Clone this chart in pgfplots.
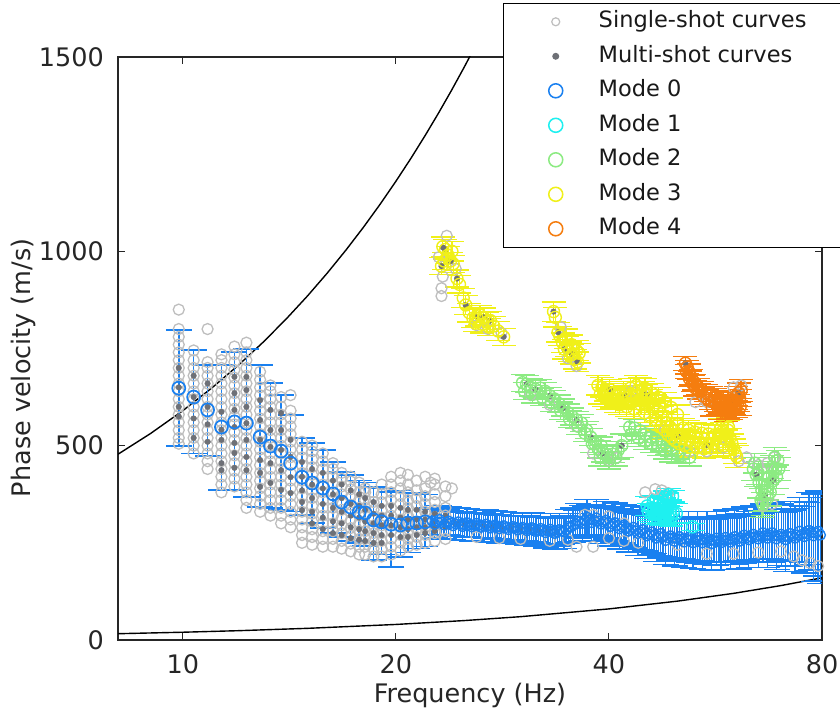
\documentclass[border=0pt]{standalone}
\usepackage{pgfplots}
\pgfplotsset{compat=1.18}
\usepackage{pgfplotstable}
\usepackage{fontspec}
\setmainfont{DejaVu Sans}

\definecolor{mzero}{RGB}{25,128,240}
\definecolor{mone}{RGB}{30,240,240}
\definecolor{mtwo}{RGB}{140,235,130}
\definecolor{mthree}{RGB}{240,240,25}
\definecolor{mfour}{RGB}{245,125,15}
\definecolor{single}{RGB}{190,190,190}
\definecolor{multi}{RGB}{110,112,118}
\definecolor{axisgray}{RGB}{38,38,38}

% Mode 0, low frequencies: f, v, error plus, error minus
\pgfplotstableread{
f v ep em
9.87 648 150 149
10.36 625 121 145
10.84 592 115 119
11.34 548 160 162
11.83 561 180 175
12.30 558 191 190
12.86 522 185 180
13.30 499 162 160
13.77 486 144 151
14.20 455 124 125
14.74 419 101 97
15.23 404 103 103
15.77 391 98 103
16.30 376 82 101
16.77 355 77 90
17.27 342 82 87
17.75 329 82 79
18.10 327 78 85
18.60 309 85 103
19.10 304 86 84
19.70 298 83 110
20.30 296 89 83
20.80 301 79 76
21.40 301 77 66
22.00 304 71 64
}\modezerolow

% Mode 0, dense part
\pgfplotstableread{
f v ep em
22.5 306 34 34
22.7 298 38 36
22.9 304 33 33
23.05 310 36 38
23.2 303 33 33
23.4 296 37 36
23.6 302 32 32
23.75 306 36 37
23.9 300 32 32
24.1 294 37 36
24.3 299 32 32
24.5 304 36 37
24.7 298 31 31
24.85 292 37 36
25.0 297 31 31
25.2 302 36 37
25.4 296 31 31
25.6 291 37 36
25.8 295 31 31
26.0 300 36 37
26.2 295 31 31
26.4 290 37 36
26.6 294 31 31
26.8 298 36 37
27.0 293 31 31
27.2 288 37 36
27.4 292 31 31
27.6 296 36 37
27.8 291 31 31
28.0 286 37 36
28.2 290 31 31
28.4 294 36 37
28.6 289 31 31
28.85 284 37 36
29.1 289 31 31
29.3 292 36 37
29.5 288 31 31
29.75 283 37 36
30.0 287 31 31
30.2 290 37 38
30.4 286 31 31
30.65 281 38 37
30.9 285 32 32
31.1 289 38 39
31.3 284 32 32
31.55 279 39 38
31.8 283 32 32
32.05 287 39 40
32.3 282 33 33
32.55 276 40 39
32.8 281 33 33
33.05 285 40 41
33.3 280 33 33
33.55 274 41 40
33.8 279 34 34
34.05 284 41 42
34.3 280 34 34
34.55 278 43 42
34.8 283 35 35
35.05 292 44 42
35.3 290 36 36
35.6 296 44 44
35.9 298 36 36
36.15 306 45 44
36.4 304 37 37
36.7 300 46 45
37.0 308 37 37
37.25 316 46 46
37.5 309 38 38
37.8 302 47 47
38.1 308 38 38
38.4 314 48 47
38.7 306 38 38
39.0 298 48 49
39.3 304 39 39
39.6 308 49 48
39.9 301 39 39
40.2 292 50 50
40.5 298 40 40
40.8 302 51 50
41.1 295 40 40
41.4 286 52 52
41.7 291 41 41
42.0 296 53 52
42.3 287 42 42
42.65 280 54 54
43.0 284 43 43
43.3 290 55 54
43.6 281 44 44
43.95 274 56 56
44.3 278 45 45
44.65 284 58 56
45.0 275 46 46
45.3 268 58 58
45.6 272 47 47
45.95 278 60 58
46.3 270 48 48
46.65 262 60 60
47.0 267 49 49
47.35 274 61 60
47.7 265 50 50
48.1 256 62 62
48.5 263 50 50
48.85 268 63 62
49.2 262 51 51
49.55 254 64 64
49.9 261 52 52
50.3 266 64 64
50.7 260 52 52
51.1 252 65 65
51.5 259 53 53
51.85 264 66 65
52.2 258 53 53
52.6 250 66 66
53.0 258 54 54
53.4 264 67 66
53.8 257 54 54
54.2 250 68 68
54.6 257 55 55
55.05 262 68 68
55.5 256 55 55
55.9 248 68 68
56.3 256 55 55
56.75 262 69 69
57.2 256 56 56
57.6 250 69 69
58.0 257 56 56
58.45 264 70 70
58.9 258 56 56
59.35 252 70 70
59.8 259 57 57
60.25 266 71 71
60.7 260 57 57
61.15 254 71 71
61.6 262 57 57
62.1 270 72 72
62.6 263 58 58
63.05 258 72 72
63.5 265 58 58
64.0 272 73 73
64.5 266 59 59
65.0 260 73 74
65.5 267 59 59
66.0 276 74 75
66.5 268 60 60
67.0 262 75 76
67.5 269 60 60
68.0 276 76 77
68.5 268 61 61
69.0 260 77 78
69.5 267 62 62
70.05 272 78 80
70.6 266 63 63
71.1 258 80 82
71.6 266 64 64
72.15 274 82 84
72.7 268 66 66
73.25 262 84 86
73.8 270 68 68
74.4 280 86 88
75.0 272 72 72
75.55 266 90 94
76.1 274 80 80
76.7 282 98 103
77.3 276 90 95
77.85 268 108 118
78.4 275 100 110
79.0 280 103 128
79.6 270 105 125
}\modezerohigh

\pgfplotstableread{
f v e
45.3 345 25
45.5 330 22
45.8 340 28
46.0 325 22
46.2 352 20
46.3 337 30
46.5 322 24
46.8 335 32
47.0 350 22
47.0 325 24
47.3 334 32
47.5 320 24
47.7 355 20
47.8 333 32
48.0 368 15
48.0 322 26
48.3 332 30
48.3 360 18
48.5 320 26
48.6 374 15
48.8 330 30
49.0 318 25
49.2 370 15
49.3 328 28
49.8 326 25
52.5 291 9
}\modeone

\pgfplotstableread{
f v e
30.2 662 22
30.4 640 22
30.6 658 22
31.0 650 22
31.2 632 22
31.5 645 22
32.0 648 22
32.2 625 22
32.5 640 22
33.0 628 22
33.2 610 22
33.5 620 22
34.0 608 22
34.2 590 22
34.5 598 22
35.0 585 22
35.2 568 22
35.5 575 22
36.0 566 22
36.2 550 22
36.6 558 22
37.0 532 22
37.2 540 22
37.7 522 22
37.9 505 22
38.2 505 22
38.7 490 22
38.9 470 22
39.0 500 22
39.2 480 22
39.8 476 22
40.0 462 22
40.5 478 22
40.9 470 22
41.2 488 22
41.7 500 30
42.8 548 22
43.0 528 22
43.5 545 22
44.0 520 22
44.3 538 22
45.0 512 22
45.1 530 22
45.9 522 22
46.0 505 22
46.7 515 22
47.0 496 22
47.5 508 22
48.0 488 22
48.3 500 22
49.0 480 22
49.1 494 22
49.9 488 22
50.0 476 22
51.0 478 22
52.0 470 22
64.0 440 30
64.3 455 25
64.6 425 30
65.0 430 30
65.2 405 40
65.6 360 30
65.8 385 70
66.0 350 30
66.4 372 40
66.8 395 35
67.0 365 35
67.3 420 30
67.6 380 35
68.0 445 30
68.2 410 35
68.6 470 25
68.8 440 30
69.0 420 30
69.3 462 25
69.5 440 30
}\modetwo

\pgfplotstableread{
f v e
23.2 962 22
23.3 1012 25
23.4 975 22
23.5 1005 25
23.7 990 22
23.9 975 22
24.0 1000 25
24.1 968 22
24.4 930 22
24.6 915 22
24.9 880 24
25.1 862 24
25.4 842 24
25.7 828 24
25.9 815 22
26.0 832 24
26.3 836 24
26.5 812 22
26.6 830 24
26.9 818 24
27.1 805 22
27.2 822 24
27.5 808 24
27.9 795 24
28.4 780 22
33.4 845 25
33.6 830 25
33.9 792 25
34.1 782 25
34.4 765 25
34.6 748 25
34.8 775 25
34.9 755 25
35.2 742 25
35.4 760 25
35.5 735 25
35.8 722 25
36.0 745 25
36.1 716 25
36.3 738 25
38.6 655 25
38.9 632 25
39.1 650 25
39.4 625 25
39.6 640 25
39.9 618 25
40.1 645 25
40.4 622 25
40.6 635 25
40.9 610 25
41.1 628 25
41.4 605 25
41.6 622 25
41.9 640 25
42.1 630 25
42.4 600 25
42.6 625 25
42.9 648 25
43.1 618 25
43.4 595 25
43.7 655 25
43.9 630 25
44.2 650 25
44.4 605 25
44.7 640 25
44.9 585 25
45.0 648 25
45.2 632 25
45.4 610 25
45.7 575 25
45.8 620 25
46.0 635 25
46.1 595 25
46.4 605 25
46.7 565 25
47.0 625 25
47.0 590 25
47.3 548 25
47.6 575 25
47.9 540 25
48.0 612 25
48.2 560 25
48.5 528 25
48.8 548 25
49.0 598 25
49.1 520 25
49.4 540 25
49.7 512 25
50.0 580 25
50.0 555 25
50.3 505 25
50.6 520 25
50.9 545 25
51.2 500 25
51.5 515 25
51.8 540 25
52.1 496 25
52.5 510 25
52.9 535 25
53.3 494 25
53.7 508 25
54.1 532 25
54.5 492 25
54.9 506 25
55.3 530 25
55.7 494 25
56.1 506 25
56.5 528 25
56.9 496 25
57.3 510 25
57.5 545 25
57.7 535 25
58.1 500 25
58.5 515 25
58.9 540 25
59.0 548 25
59.3 520 25
59.7 505 25
60.0 492 25
60.3 480 25
60.6 472 28
}\modethree

\pgfplotstableread{
f v e
51.3 712 18
51.5 690 18
51.6 702 18
51.9 690 20
52.0 672 20
52.3 676 20
52.5 660 20
52.8 663 20
53.0 648 20
53.4 652 20
53.6 640 20
54.1 643 22
54.3 628 22
54.9 636 22
55.0 622 22
55.7 630 22
55.8 615 22
56.0 598 22
56.5 625 22
56.6 610 22
57.0 603 22
57.3 620 22
57.4 606 22
57.5 590 22
58.0 597 22
58.1 616 22
58.2 604 22
58.5 585 22
58.9 614 22
59.0 592 22
59.0 602 22
59.5 590 22
59.7 618 22
59.8 606 22
60.0 602 22
60.4 628 25
60.5 595 22
60.5 615 22
60.8 610 22
61.0 636 25
61.2 622 22
61.3 600 22
61.5 642 28
}\modefour

\begin{document}
\begin{tikzpicture}
\begin{axis}[
  name=ax,
  scale only axis, width=704bp, height=583bp,
  xmode=log, xmin=8.1, xmax=80, ymin=0, ymax=1500,
  xtick={10,20,40,80}, xticklabels={10,20,40,80},
  ytick={0,500,1000,1500}, yticklabels={0,500,1000,1500},
  xminorticks=false,
  tick align=inside, major tick length=7bp,
  every tick/.style={axisgray, line width=1bp},
  axis line style={axisgray, line width=1.3bp},
  tick label style={font=\fontsize{25.5bp}{30bp}\selectfont, text=axisgray},
  xticklabel style={anchor=north, inner sep=0pt, yshift=-14bp},
  yticklabel style={anchor=east, inner sep=0pt, xshift=-14bp},
  xlabel={Frequency (Hz)}, ylabel={Phase velocity (m/s)},
  label style={font=\fontsize{25.5bp}{30bp}\selectfont, text=axisgray},
  xlabel style={at={(axis description cs:0.5,0)}, anchor=base, yshift=-62bp},
  ylabel style={at={(axis description cs:-0.1236,0.467)}, anchor=base},
  legend cell align=left,
  legend image code/.code={\path[draw=none, fill=none] (0bp,-9bp) rectangle (55bp,9bp); \draw[#1] plot coordinates {(12bp,0bp)};},
  legend style={at={(axis description cs:0.547,0.6724)}, anchor=south west,
    draw=black, line width=1.3bp, fill=white,
    inner xsep=40bp, inner ysep=7.3bp, row sep=12bp, column sep=0pt,
    nodes={inner sep=0pt, text height=17bp, text depth=5.5bp,
      font=\fontsize{22.5bp}{27bp}\selectfont, text=black!90}},
]

% wavelength limits
\addplot[black, line width=1.4bp, forget plot] coordinates {
 (8.1,478) (9,531) (10,590) (11,649) (12,708) (13,767) (14,826) (15,885)
 (16,944) (17,1003) (18,1062) (19,1121) (20,1180) (21,1239) (22,1298)
 (23,1357) (24,1416) (25,1475) (26,1534)};
\addplot[black, line width=1.4bp, forget plot] coordinates {
 (8.1,16.2) (10,20) (12,24) (15,30) (20,40) (25,50) (30,60) (40,80)
 (50,100) (60,120) (70,140) (80,160)};

% single-shot picks
\addplot[only marks, mark=o, mark size=5.5bp, single, line width=1.3bp, forget plot] table {
f v
9.87 505
9.87 520
9.87 540
9.87 560
9.87 580
9.87 600
9.87 620
9.87 640
9.87 660
9.87 680
9.87 700
9.87 720
9.87 740
9.87 760
9.87 780
9.87 800
9.87 850
10.36 480
10.36 500
10.36 520
10.36 540
10.36 560
10.36 580
10.36 600
10.36 620
10.36 640
10.36 660
10.36 680
10.36 700
10.36 720
10.36 745
10.84 440
10.84 460
10.84 480
10.84 500
10.84 520
10.84 540
10.84 560
10.84 580
10.84 600
10.84 620
10.84 640
10.84 660
10.84 680
10.84 700
10.84 715
10.84 800
11.34 380
11.34 400
11.34 420
11.34 440
11.34 460
11.34 480
11.34 500
11.34 520
11.34 540
11.34 560
11.34 580
11.34 600
11.34 620
11.34 640
11.34 660
11.34 680
11.34 700
11.34 720
11.34 735
11.83 395
11.83 415
11.83 435
11.83 455
11.83 475
11.83 495
11.83 515
11.83 535
11.83 555
11.83 575
11.83 595
11.83 615
11.83 635
11.83 655
11.83 675
11.83 695
11.83 715
11.83 735
11.83 755
12.30 340
12.30 360
12.30 380
12.30 400
12.30 420
12.30 440
12.30 460
12.30 480
12.30 500
12.30 520
12.30 540
12.30 560
12.30 580
12.30 600
12.30 620
12.30 640
12.30 660
12.30 680
12.30 700
12.30 720
12.30 740
12.30 765
12.86 330
12.86 350
12.86 370
12.86 390
12.86 410
12.86 430
12.86 450
12.86 470
12.86 490
12.86 510
12.86 530
12.86 550
12.86 570
12.86 590
12.86 610
12.86 630
12.86 650
12.86 670
12.86 690
13.30 320
13.30 340
13.30 360
13.30 380
13.30 400
13.30 420
13.30 440
13.30 460
13.30 480
13.30 500
13.30 520
13.30 540
13.30 560
13.30 580
13.30 600
13.30 620
13.30 640
13.30 655
13.77 300
13.77 320
13.77 340
13.77 360
13.77 380
13.77 400
13.77 420
13.77 440
13.77 460
13.77 480
13.77 500
13.77 520
13.77 540
13.77 560
13.77 580
13.77 600
13.77 625
14.20 290
14.20 310
14.20 330
14.20 350
14.20 370
14.20 390
14.20 410
14.20 430
14.20 450
14.20 470
14.20 490
14.20 510
14.20 530
14.20 550
14.20 570
14.20 590
14.20 630
14.74 250
14.74 270
14.74 290
14.74 310
14.74 330
14.74 350
14.74 370
14.74 390
14.74 410
14.74 430
14.74 450
14.74 470
14.74 490
14.74 510
15.23 245
15.23 265
15.23 285
15.23 305
15.23 325
15.23 345
15.23 365
15.23 385
15.23 405
15.23 425
15.23 445
15.23 465
15.23 485
15.23 500
15.77 240
15.77 260
15.77 280
15.77 300
15.77 320
15.77 340
15.77 360
15.77 380
15.77 400
15.77 420
15.77 440
15.77 460
15.77 480
16.30 240
16.30 260
16.30 280
16.30 300
16.30 320
16.30 340
16.30 360
16.30 380
16.30 400
16.30 420
16.30 440
16.30 455
16.77 235
16.77 255
16.77 275
16.77 295
16.77 315
16.77 335
16.77 355
16.77 375
16.77 395
16.77 415
16.77 430
17.27 228
17.27 248
17.27 268
17.27 288
17.27 308
17.27 328
17.27 348
17.27 368
17.27 388
17.27 408
17.27 420
17.75 220
17.75 240
17.75 260
17.75 280
17.75 300
17.75 320
17.75 340
17.75 360
17.75 380
17.75 405
18.10 220
18.10 240
18.10 260
18.10 280
18.10 300
18.10 320
18.10 340
18.10 360
18.10 380
18.10 390
18.60 215
18.60 235
18.60 255
18.60 275
18.60 295
18.60 315
18.60 335
18.60 355
18.60 380
19.10 215
19.10 235
19.10 255
19.10 275
19.10 295
19.10 315
19.10 335
19.10 355
19.10 375
19.10 400
19.70 220
19.70 240
19.70 260
19.70 280
19.70 300
19.70 320
19.70 340
19.70 360
19.70 380
19.70 400
19.70 420
20.30 230
20.30 250
20.30 270
20.30 290
20.30 310
20.30 330
20.30 350
20.30 370
20.30 390
20.30 410
20.30 430
20.80 240
20.80 260
20.80 280
20.80 300
20.80 320
20.80 340
20.80 360
20.80 380
20.80 400
20.80 425
21.40 245
21.40 265
21.40 285
21.40 305
21.40 325
21.40 345
21.40 365
21.40 385
21.40 410
22.00 250
22.00 270
22.00 290
22.00 310
22.00 330
22.00 350
22.00 370
22.00 390
22.00 420
22.7 255
22.7 275
22.7 295
22.7 315
22.7 335
22.7 355
22.7 375
22.7 400
22.7 415
23.5 260
23.5 280
23.5 300
23.5 320
23.5 340
23.5 370
23.5 395
24.0 390
22.4 405
26 265
28 262
30 260
33 255
35 258
37 322
38 322
40 318
42 300
40 262
42 255
44 250
45 380
46.5 388
47.5 385
48.5 378
50 245
55 222
60 222
65 225
70 228
73 215
75 205
77 198
79 190
36 240
38 240
23.2 905
23.2 885
23.3 935
23.6 1040
23.0 985
24.3 955
26.0 810
27.0 800
28.2 790
34.2 805
35.0 725
36.0 705
31.0 630
33.0 605
36.0 550
38.0 480
40.0 462
41.0 468
43.0 640
48.0 540
52.0 485
55.0 485
58.0 495
61.0 460
62.6 470
65.0 450
67.0 455
68.5 470
68.0 350
66.0 345
60.0 650
61.5 655
53.0 612
55.0 612
};

% multi-shot picks
\addplot[only marks, mark=*, mark size=2.8bp, multi, forget plot] coordinates {
 (9.87,575) (9.87,600) (9.87,650) (9.87,700)
 (10.36,520) (10.36,570) (10.36,625) (10.36,680)
 (10.84,510) (10.84,555) (10.84,600) (10.84,660)
 (11.34,437) (11.34,455) (11.34,515) (11.34,541) (11.34,587)
 (11.83,443) (11.83,481) (11.83,507) (11.83,548) (11.83,592) (11.83,635) (11.83,677)
 (12.30,437) (12.30,471) (12.30,515) (12.30,558) (12.30,600) (12.30,643) (12.30,677)
 (12.86,394) (12.86,430) (12.86,463) (12.86,515) (12.86,566) (12.86,617)
 (13.30,404) (13.30,455) (13.30,497) (13.30,540) (13.30,592)
 (13.77,386) (13.77,437) (13.77,489) (13.77,540) (13.77,584)
 (14.20,378) (14.20,419) (14.20,471) (14.20,515)
 (14.74,334) (14.74,355) (14.74,385) (14.74,420) (14.74,458)
 (15.23,300) (15.23,330) (15.23,365) (15.23,400) (15.23,440)
 (15.77,285) (15.77,315) (15.77,350) (15.77,390) (15.77,430)
 (16.30,275) (16.30,305) (16.30,340) (16.30,375) (16.30,410)
 (16.77,270) (16.77,300) (16.77,330) (16.77,365) (16.77,400)
 (17.27,262) (17.27,290) (17.27,320) (17.27,350) (17.27,385)
 (17.75,258) (17.75,285) (17.75,315) (17.75,345) (17.75,375)
 (18.10,255) (18.10,280) (18.10,305) (18.10,335) (18.10,365)
 (18.60,250) (18.60,275) (18.60,300) (18.60,325) (18.60,355)
 (19.10,250) (19.10,270) (19.10,295) (19.10,320) (19.10,345)
 (19.70,270) (19.70,295) (19.70,320) (19.70,345)
 (20.30,265) (20.30,290) (20.30,315) (20.30,340)
 (20.80,265) (20.80,285) (20.80,310) (20.80,335)
 (21.40,270) (21.40,290) (21.40,310) (21.40,335)
 (22.00,275) (22.00,290) (22.00,310) (22.00,330)
 (22.7,280) (22.7,290) (22.7,305) (22.7,325) (23.5,290) (23.5,305) (23.5,320)
 (24.3,300) (25.0,297) (25.8,295) (26.6,294) (27.4,292) (28.2,290) (29.1,289)
 (30.0,287) (30.9,285) (31.8,283) (32.8,281) (33.8,279)
 (23.3,1010) (23.5,1005) (23.2,962) (23.9,975) (24.4,930) (25.1,862) (26.0,832)
 (26.6,830) (27.2,822) (28.4,780) (33.4,845) (33.9,792) (34.6,748) (35.5,735) (36.1,716)
 (30.6,658) (31.5,645) (33.0,628) (34.5,598) (36.0,566) (37.7,522) (39.2,480) (41.7,500)
 (51.3,712) (59.7,618) (61.0,636) (40.1,645) (42.1,630) (45.2,632) (50.0,525) (55.0,502)
 (66.4,372) (68.2,410) (64.6,425)
};

% mode 0
\addplot[only marks, mark=o, mark size=6.5bp, mzero, line width=1.7bp, forget plot,
  error bars/.cd, y dir=both, y explicit,
  error bar style={line width=1.5bp, mzero},
  error mark options={rotate=90, mzero, mark size=13bp, line width=1.5bp}]
  table[x=f, y=v, y error plus=ep, y error minus=em] {\modezerolow};
\addplot[only marks, mark=o, mark size=5bp, mzero, line width=1.4bp, forget plot,
  error bars/.cd, y dir=both, y explicit,
  error bar style={line width=1.3bp, mzero},
  error mark options={rotate=90, mzero, mark size=13bp, line width=1.4bp}]
  table[x=f, y=v, y error plus=ep, y error minus=em] {\modezerohigh};

% modes 1 to 4
\addplot[only marks, mark=o, mark size=6bp, mone, line width=1.4bp, forget plot,
  error bars/.cd, y dir=both, y explicit,
  error bar style={line width=1.3bp, mone},
  error mark options={rotate=90, mone, mark size=12bp, line width=1.3bp}]
  table[x=f, y=v, y error plus=e, y error minus=e] {\modeone};
\addplot[only marks, mark=o, mark size=6bp, mtwo, line width=1.4bp, forget plot,
  error bars/.cd, y dir=both, y explicit,
  error bar style={line width=1.3bp, mtwo},
  error mark options={rotate=90, mtwo, mark size=12bp, line width=1.3bp}]
  table[x=f, y=v, y error plus=e, y error minus=e] {\modetwo};
\addplot[only marks, mark=o, mark size=6bp, mthree, line width=1.4bp, forget plot,
  error bars/.cd, y dir=both, y explicit,
  error bar style={line width=1.3bp, mthree},
  error mark options={rotate=90, mthree, mark size=12bp, line width=1.3bp}]
  table[x=f, y=v, y error plus=e, y error minus=e] {\modethree};
\addplot[only marks, mark=o, mark size=6bp, mfour, line width=1.4bp, forget plot,
  error bars/.cd, y dir=both, y explicit,
  error bar style={line width=1.3bp, mfour},
  error mark options={rotate=90, mfour, mark size=12bp, line width=1.3bp}]
  table[x=f, y=v, y error plus=e, y error minus=e] {\modefour};

\addlegendimage{only marks, mark=o, mark size=4bp, single, line width=1.2bp}
\addlegendentry{Single-shot curves}
\addlegendimage{only marks, mark=*, mark size=2.8bp, multi}
\addlegendentry{Multi-shot curves}
\addlegendimage{only marks, mark=o, mark size=7bp, mzero, line width=1.5bp}
\addlegendentry{Mode 0}
\addlegendimage{only marks, mark=o, mark size=7bp, mone, line width=1.5bp}
\addlegendentry{Mode 1}
\addlegendimage{only marks, mark=o, mark size=7bp, mtwo, line width=1.5bp}
\addlegendentry{Mode 2}
\addlegendimage{only marks, mark=o, mark size=7bp, mthree, line width=1.5bp}
\addlegendentry{Mode 3}
\addlegendimage{only marks, mark=o, mark size=7bp, mfour, line width=1.5bp}
\addlegendentry{Mode 4}
\end{axis}
\pgfresetboundingbox
\path ([xshift=-118bp,yshift=-75bp]ax.south west) rectangle ([xshift=722bp,yshift=640bp]ax.south west);
\end{tikzpicture}
\end{document}
